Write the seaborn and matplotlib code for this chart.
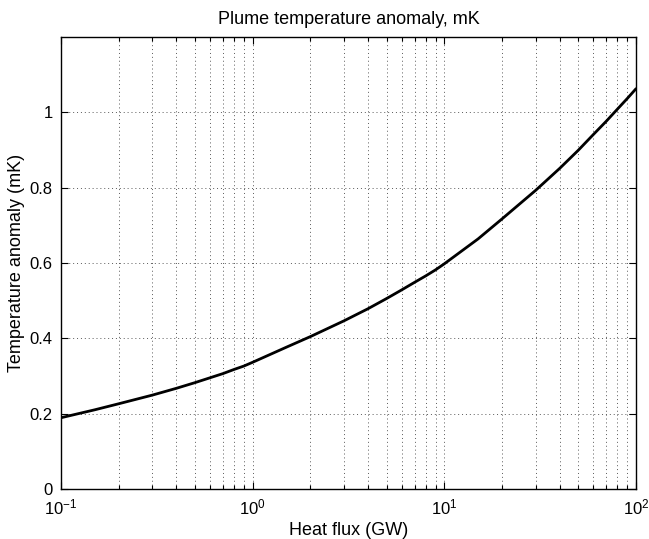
import numpy as np
import pandas as pd
import matplotlib
matplotlib.use("Agg")
import matplotlib.pyplot as plt
import seaborn as sns

# values
heat_flux = [0.1, 0.15, 0.2, 0.3, 0.4, 0.5, 0.6, 0.7, 0.8, 0.9, 1,
             1.5, 2, 3, 4, 5, 6, 7, 8, 9, 10,
             15, 20, 30, 40, 50, 60, 70, 80, 90, 100]
temp_anom = [0.190, 0.211, 0.227, 0.250, 0.268, 0.283, 0.296, 0.307, 0.318, 0.327, 0.337,
             0.377, 0.405, 0.447, 0.479, 0.506, 0.529, 0.549, 0.566, 0.582, 0.598,
             0.664, 0.717, 0.793, 0.851, 0.899, 0.941, 0.976, 1.008, 1.036, 1.062]
y_ticks = [0, 0.2, 0.4, 0.6, 0.8, 1]
y_ticklabels = ["0", "0.2", "0.4", "0.6", "0.8", "1"]

df = pd.DataFrame({"Q": heat_flux, "T": temp_anom})

sns.set_style("ticks")
plt.rcParams['font.family'] = ['Liberation Sans', 'DejaVu Sans']
plt.rcParams['mathtext.fontset'] = 'custom'
plt.rcParams['mathtext.rm'] = 'Liberation Sans'
plt.rcParams['text.color'] = 'k'
plt.rcParams['axes.labelcolor'] = 'k'
plt.rcParams['xtick.color'] = 'k'
plt.rcParams['ytick.color'] = 'k'

fig = plt.figure(figsize=(6.49, 5.39), dpi=100)
ax = fig.add_axes([0.094, 0.092, 0.886, 0.840])

sns.lineplot(data=df, x="Q", y="T", color="k", lw=2, ax=ax)

ax.set_xscale("log")
ax.set_xlim(0.1, 100)
ax.set_ylim(0, 1.2)
ax.set_yticks(y_ticks)
ax.set_yticklabels(y_ticklabels)

ax.grid(True, which="major", axis="both", color="0.35", linestyle=(0, (1, 3)), lw=0.7)
ax.grid(True, which="minor", axis="x", color="0.35", linestyle=(0, (1, 3)), lw=0.7)

ax.tick_params(which="both", direction="in", top=True, right=True, labelsize=12, width=0.8, pad=6)
ax.tick_params(which="major", length=5)
ax.tick_params(which="minor", length=3)
for sp in ax.spines.values():
    sp.set_visible(True)
    sp.set_linewidth(1.0)
    sp.set_color("k")

ax.set_xlabel("Heat flux (GW)", fontsize=13, labelpad=3)
ax.set_ylabel("Temperature anomaly (mK)", fontsize=13, labelpad=3)
ax.set_title("Plume temperature anomaly, mK", fontsize=13, pad=9)

fig.savefig("out.png", dpi=100)
